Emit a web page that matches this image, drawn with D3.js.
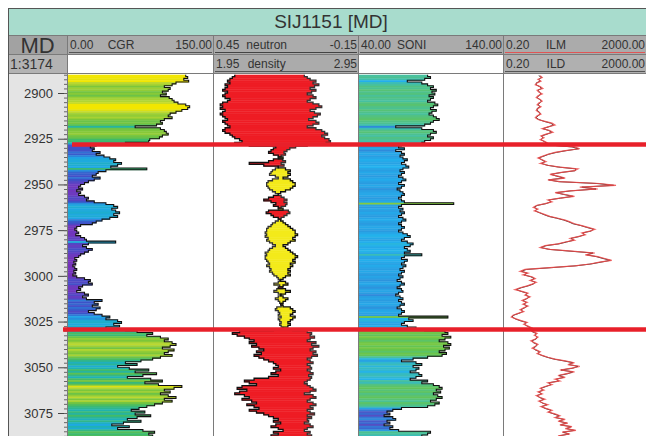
<!DOCTYPE html>
<html><head><meta charset="utf-8">
<script src="https://cdn.jsdelivr.net/npm/d3@7"></script>
<style>
body{margin:0;background:#fff;}
svg{display:block;font-family:Arial,"Liberation Sans",sans-serif;}
</style>
</head><body>
<svg id="c" width="646" height="436"></svg>
<script>
// ---------------- DATA ----------------
const wellName = "SIJ1151 [MD]";
const depthLabel = "MD";
const scaleLabel = "1:3174";
const depthStart = 2890;   // first sample depth (m)
const depthStep = 1;       // sample interval (m)
const depthTicks = [2900, 2925, 2950, 2975, 3000, 3025, 3050, 3075];
const zoneTops = [2928.2, 3029.4];

const cgrHeader = ["0.00", "CGR", "150.00"];
const neutronHeader = ["0.45", "neutron", "-0.15"];
const densityHeader = ["1.95", "density", "2.95"];
const soniHeader = ["40.00", "SONI", "140.00"];
const ilmHeader = ["0.20", "ILM", "2000.00"];
const ildHeader = ["0.20", "ILD", "2000.00"];

const cgr = [
122,124,120,125,112,108,100,106,104,98,
102,96,105,108,110,114,122,126,124,118,
112,106,104,108,100,96,98,92,70,96,
100,102,104,98,95,85,84,60,30,24,
28,26,34,30,38,44,50,48,56,52,
45,82,40,32,30,26,34,28,22,18,
14,12,16,10,14,12,18,22,20,28,
40,48,52,46,50,54,48,52,44,36,
30,26,14,10,8,10,12,9,14,18,
20,50,22,16,20,26,22,18,14,12,
8,10,7,9,6,8,10,7,9,6,
10,18,24,22,26,16,12,14,10,18,
22,16,20,36,28,32,26,34,30,22,
28,36,44,40,52,56,48,54,40,60,
72,88,82,96,104,100,108,112,106,98,
110,104,100,108,96,88,76,60,72,52,
64,84,70,92,78,62,86,98,80,94,
118,110,100,106,96,104,112,100,108,98,
90,82,74,66,80,70,86,72,62,76,
58,46,64,52,78,90,84,88];

const neutron = [
.36,.37,.38,.39,.38,.40,.39,.40,.41,.39,
.40,.41,.40,.38,.39,.41,.42,.41,.42,.40,
.41,.42,.41,.40,.39,.41,.40,.39,.38,.40,
.41,.40,.38,.37,.36,.34,.33,.36,.30,.19,
.20,.21,.22,.20,.18,.16,.20,.22,.30,.24,
.18,.15,.13,.14,.13,.14,.16,.13,.12,.11,
.11,.12,.13,.15,.17,.18,.20,.22,.24,.21,
.19,.20,.18,.16,.22,.23,.21,.20,.18,.17,
.16,.15,.14,.13,.12,.11,.11,.10,.11,.12,
.11,.13,.14,.16,.15,.14,.13,.12,.11,.10,
.11,.12,.11,.13,.12,.13,.14,.13,.14,.13,
.15,.16,.17,.15,.14,.16,.18,.15,.13,.15,
.17,.16,.14,.15,.16,.17,.16,.13,.12,.11,
.12,.13,.11,.12,.13,.14,.13,.14,.16,.20,
.34,.37,.35,.32,.30,.28,.30,.27,.29,.26,
.24,.27,.25,.28,.26,.24,.22,.20,.19,.18,
.20,.17,.19,.21,.18,.22,.28,.32,.30,.27,
.33,.35,.31,.34,.36,.32,.30,.33,.29,.27,
.31,.28,.26,.30,.27,.24,.22,.20,.18,.20,
.17,.19,.21,.18,.16,.20,.18,.21];

const density = [
2.58,2.60,2.62,2.66,2.64,2.68,2.65,2.62,2.66,2.63,
2.60,2.64,2.66,2.62,2.60,2.64,2.68,2.70,2.66,2.62,
2.65,2.69,2.67,2.64,2.61,2.66,2.68,2.64,2.60,2.66,
2.70,2.72,2.74,2.70,2.72,2.75,2.76,2.73,2.60,2.52,
2.48,2.46,2.44,2.45,2.42,2.40,2.43,2.45,2.42,2.44,
2.40,2.38,2.36,2.35,2.34,2.38,2.40,2.36,2.33,2.32,
2.32,2.33,2.34,2.36,2.38,2.40,2.42,2.44,2.46,2.44,
2.46,2.45,2.42,2.40,2.47,2.48,2.46,2.44,2.42,2.40,
2.38,2.36,2.35,2.33,2.32,2.32,2.31,2.32,2.31,2.33,
2.32,2.34,2.36,2.38,2.36,2.34,2.33,2.31,2.32,2.31,
2.31,2.32,2.33,2.34,2.32,2.34,2.35,2.34,2.36,2.37,
2.39,2.40,2.41,2.40,2.37,2.41,2.43,2.39,2.37,2.40,
2.42,2.40,2.38,2.40,2.41,2.43,2.42,2.39,2.38,2.40,
2.41,2.40,2.42,2.40,2.41,2.42,2.41,2.42,2.43,2.50,
2.60,2.63,2.62,2.65,2.62,2.60,2.66,2.63,2.68,2.64,
2.62,2.66,2.64,2.67,2.63,2.60,2.62,2.64,2.60,2.62,
2.63,2.60,2.62,2.64,2.61,2.63,2.62,2.60,2.58,2.60,
2.62,2.64,2.66,2.62,2.58,2.64,2.66,2.62,2.60,2.64,
2.66,2.62,2.64,2.60,2.62,2.65,2.60,2.63,2.60,2.61,
2.58,2.62,2.64,2.60,2.58,2.62,2.60,2.63];

const soni = [
88,90,86,74,84,88,92,90,94,91,
93,89,92,90,88,93,95,92,90,94,
91,89,92,94,96,92,90,86,66,84,
92,94,90,88,92,90,86,84,70,68,
72,66,70,72,69,71,74,72,70,73,
75,71,69,72,70,68,71,73,70,68,
72,70,67,69,71,72,70,68,70,72,
106,70,68,71,69,72,70,68,71,73,
70,68,70,72,70,68,71,74,76,72,
70,74,78,76,72,74,76,72,84,72,
70,74,72,70,73,71,69,72,70,68,
71,69,67,70,72,69,67,70,71,68,
66,69,71,68,70,72,69,67,70,72,
70,68,102,75,78,72,70,74,80,86,
100,102,98,104,100,96,102,104,99,103,
100,96,101,98,88,78,70,80,84,78,
82,80,76,82,84,80,76,88,84,92,
96,98,94,97,92,95,98,94,90,96,
93,88,70,64,60,62,58,64,66,60,
62,58,64,62,68,90,88,84];

const ilm = [
2.2,2.5,1.9,2.3,1.8,1.6,2.2,2.6,1.8,2.0,
2.5,1.9,1.7,2.2,2.5,2.0,1.8,2.3,1.9,1.7,
2.0,2.3,1.8,1.6,1.9,3.0,4.7,5.7,3.6,2.5,
4.1,5.0,3.2,2.3,2.8,2.2,3.0,3.6,4.7,20,
28,11,5.7,3.6,2.6,1.9,2.5,3.2,2.2,3.6,
7.8,25,20,7.8,4.1,6.9,11,3.6,7.8,100,
290,28,90,15,5.7,11,20,7.8,3.6,4.7,
3.0,1.7,1.4,1.9,1.5,2.2,3.0,4.1,6.9,11,
15,20,32,48,74,54,32,40,25,15,
20,11,6.9,3.0,2.2,4.1,17,74,40,90,
140,220,100,54,20,4.1,0.82,0.6,1.0,0.72,
1.3,1.6,1.14,1.7,1.3,0.95,0.6,0.43,0.68,1.0,
0.82,1.14,0.88,0.68,0.95,0.72,1.0,0.76,0.6,0.76,
0.53,0.38,0.34,0.46,0.64,0.95,0.76,1.0,1.3,1.14,
1.4,1.8,1.5,1.9,1.6,1.2,1.5,1.9,1.6,1.3,
1.7,2.2,1.8,2.5,3.6,5.7,11,20,13,28,
17,7.8,20,12,6.9,11,5.7,7.8,3.6,4.7,
3.0,2.2,2.8,1.9,2.5,1.7,2.2,3.0,2.0,2.6,
3.6,2.3,3.2,4.7,3.6,5.7,7.8,5.7,11,6.9,
13,7.8,17,11,22,9,15,6.9];

const ild = [
2.0,2.4,2.0,2.2,1.7,1.7,2.1,2.4,1.9,2.1,
2.3,2.0,1.8,2.1,2.4,2.1,1.9,2.2,1.8,1.8,
2.1,2.2,1.9,1.7,2.0,2.8,4.3,5.2,3.8,2.6,
3.8,4.6,3.4,2.4,2.6,2.3,2.8,3.4,4.4,17,
26,12,6.2,3.8,2.8,2.0,2.4,3.0,2.4,3.4,
7.0,22,21,8.4,4.4,6.4,10,3.8,7.2,85,
250,32,80,16,6.2,10,18,8.2,3.8,4.4,
3.2,1.8,1.5,1.8,1.6,2.1,2.8,3.8,6.4,10,
14,18,30,44,68,58,34,38,27,16,
19,12,7.4,3.2,2.3,3.8,15,66,44,82,
125,200,110,58,22,4.6,0.9,0.65,0.95,0.78,
1.2,1.5,1.2,1.6,1.4,1.0,0.65,0.47,0.64,0.95,
0.86,1.1,0.92,0.72,0.9,0.76,0.95,0.8,0.64,0.72,
0.56,0.4,0.36,0.44,0.6,0.9,0.8,0.95,1.2,1.2,
1.3,1.7,1.6,1.8,1.7,1.3,1.4,1.8,1.7,1.4,
1.6,2.1,1.9,2.4,3.4,5.2,10,18,14,25,
18,8.4,18,13,7.4,10,6.2,7.2,3.8,4.4,
3.2,2.3,2.6,2.0,2.4,1.8,2.1,2.8,2.1,2.5,
3.4,2.4,3.0,4.4,3.8,5.2,7.4,6.0,10,7.4,
12,8.2,16,12,20,9.6,14,7.4];

// ---------------- LAYOUT ----------------
const W = 646, H = 436;
const X0 = 8, TITLE_T = 8, ROW1_T = 35, ROW2_T = 54, PLOT_T = 73, PLOT_B = 436;
const COLS = [8, 67, 213, 358, 503, 646];

const svg = d3.select("#c");
const depths = cgr.map((_, i) => depthStart + i * depthStep);

const y = d3.scaleLinear().domain([2900, 3075]).range([93, 413]);
const xCgr = d3.scaleLinear().domain([0, 150]).range([COLS[1], COLS[2]]);
const xNeu = d3.scaleLinear().domain([0.45, -0.15]).range([COLS[2], COLS[3]]);
const xDen = d3.scaleLinear().domain([1.95, 2.95]).range([COLS[2], COLS[3]]);
const xSon = d3.scaleLinear().domain([40, 140]).range([COLS[3], COLS[4]]);
const xRes = d3.scaleLog().domain([0.2, 2000]).range([COLS[4], COLS[5]]);

const cgrColor = d3.scaleLinear()
  .domain([5, 15, 28, 45, 65, 85, 100, 112, 122])
  .range(["#7a2fb8","#6a3cc0","#3c52c8","#1ea8e6","#1fb2b0","#3fba6a","#7cc63a","#bcd830","#f2e600"])
  .clamp(true);
const soniColor = d3.scaleLinear()
  .domain([55, 62, 68, 75, 88, 100, 108])
  .range(["#6a3cb8","#3a68d0","#2a9be0","#22b2ee","#46c0a0","#66c44c","#8ccc3c"])
  .clamp(true);

// ---- background panels ----
svg.append("rect").attr("x", X0).attr("y", TITLE_T).attr("width", W - X0).attr("height", ROW1_T - TITLE_T)
  .attr("fill", "#a8dccd");
svg.append("rect").attr("x", X0).attr("y", ROW1_T).attr("width", W - X0).attr("height", ROW2_T - ROW1_T)
  .attr("fill", "#ababab");
const row2Fill = ["#b3b3b3", "#ffffff", "#ababab", "#ffffff", "#b0b0b0"];
row2Fill.forEach((f, i) => {
  svg.append("rect").attr("x", COLS[i]).attr("y", ROW2_T).attr("width", COLS[i + 1] - COLS[i])
    .attr("height", PLOT_T - ROW2_T).attr("fill", f);
});
svg.append("rect").attr("x", COLS[0]).attr("y", ROW1_T).attr("width", COLS[1] - COLS[0])
  .attr("height", ROW2_T - ROW1_T).attr("fill", "#a2a2a2");
svg.append("rect").attr("x", COLS[0]).attr("y", PLOT_T).attr("width", COLS[1] - COLS[0])
  .attr("height", PLOT_B - PLOT_T).attr("fill", "#e4e4e4");

const defs = svg.append("defs");
for (let i = 1; i < 5; i++) {
  defs.append("clipPath").attr("id", "clip" + i).append("rect")
    .attr("x", COLS[i]).attr("y", PLOT_T).attr("width", COLS[i + 1] - COLS[i]).attr("height", PLOT_B - PLOT_T);
}

const yTop = d => y(d);
const yBot = d => y(d + depthStep) + 0.4;
function stepPoints(vals, xs) {
  const pts = [];
  vals.forEach((v, i) => { pts.push([xs(v), y(depths[i])]); pts.push([xs(v), y(depths[i] + depthStep)]); });
  return pts;
}
const line = d3.line();

// ---- CGR track ----
const gC = svg.append("g").attr("clip-path", "url(#clip1)");
gC.selectAll("rect").data(cgr).join("rect")
  .attr("x", xCgr(0)).attr("y", (v, i) => yTop(depths[i]))
  .attr("width", v => xCgr(v) - xCgr(0)).attr("height", (v, i) => yBot(depths[i]) - yTop(depths[i]))
  .attr("fill", v => cgrColor(v));
gC.append("path").attr("d", line(stepPoints(cgr, xCgr))).attr("fill", "none")
  .attr("stroke", "#111").attr("stroke-width", 1.1);

// ---- Neutron / density track ----
const gN = svg.append("g").attr("clip-path", "url(#clip2)");
gN.selectAll("rect").data(depths).join("rect")
  .attr("x", (d, i) => Math.min(xNeu(neutron[i]), xDen(density[i])))
  .attr("y", d => yTop(d))
  .attr("width", (d, i) => Math.abs(xNeu(neutron[i]) - xDen(density[i])))
  .attr("height", d => yBot(d) - yTop(d))
  .attr("fill", (d, i) => xNeu(neutron[i]) < xDen(density[i]) ? "#ee1c24" : "#f3ea1a");
gN.append("path").attr("d", line(stepPoints(density, xDen))).attr("fill", "none")
  .attr("stroke", "#333").attr("stroke-width", 1.3);
gN.append("path").attr("d", line(stepPoints(neutron, xNeu))).attr("fill", "none")
  .attr("stroke", "#111").attr("stroke-width", 1.3);

// ---- SONI track ----
const gS = svg.append("g").attr("clip-path", "url(#clip3)");
gS.selectAll("rect").data(soni).join("rect")
  .attr("x", xSon(40)).attr("y", (v, i) => yTop(depths[i]))
  .attr("width", v => xSon(v) - xSon(40)).attr("height", (v, i) => yBot(depths[i]) - yTop(depths[i]))
  .attr("fill", v => soniColor(v));
gS.append("path").attr("d", line(stepPoints(soni, xSon))).attr("fill", "none")
  .attr("stroke", "#111").attr("stroke-width", 1.1);

// ---- Resistivity track ----
const gR = svg.append("g").attr("clip-path", "url(#clip4)");
const resLine = vals => d3.line().x(v => xRes(v)).y((v, i) => y(depths[i] + depthStep / 2))(vals);
gR.append("path").attr("d", resLine(ild)).attr("fill", "none")
  .attr("stroke", "#3a1a1a").attr("stroke-width", 0.9);
gR.append("path").attr("d", resLine(ilm)).attr("fill", "none")
  .attr("stroke", "#ee4a4a").attr("stroke-width", 1.2).attr("opacity", 0.85);

// ---- grid / borders ----
const gl = svg.append("g").attr("stroke", "#7a7a7a").attr("stroke-width", 1).attr("shape-rendering", "crispEdges");
[ROW1_T, ROW2_T, PLOT_T].forEach(yy => gl.append("line").attr("x1", X0).attr("x2", W).attr("y1", yy + 0.5).attr("y2", yy + 0.5));
COLS.slice(1, 5).forEach(xx => gl.append("line").attr("x1", xx + 0.5).attr("x2", xx + 0.5).attr("y1", ROW1_T).attr("y2", PLOT_B));
svg.append("rect").attr("x", X0 + 0.5).attr("y", TITLE_T + 0.5).attr("width", W - X0).attr("height", PLOT_B - TITLE_T)
  .attr("fill", "none").attr("stroke", "#555").attr("stroke-width", 1);

// ---- header texts ----
svg.append("text").attr("x", 331).attr("y", 28).attr("text-anchor", "middle")
  .attr("font-size", 19).attr("fill", "#333").text(wellName);
svg.append("text").attr("x", (COLS[0] + COLS[1]) / 2).attr("y", 53).attr("text-anchor", "middle")
  .attr("font-size", 22).attr("fill", "#333").text(depthLabel);
svg.append("text").attr("x", X0 + 2).attr("y", 69).attr("font-size", 14).attr("fill", "#333").text(scaleLabel);

function header(col, row, labels, lineColor) {
  const x1 = COLS[col], x2 = COLS[col + 1];
  const base = row === 1 ? 49 : 68;
  const g = svg.append("g").attr("font-size", 12).attr("fill", "#333");
  g.append("text").attr("x", x1 + 3).attr("y", base).text(labels[0]);
  g.append("text").attr("x", x1 + (x2 - x1) * 0.37).attr("y", base).attr("text-anchor", "middle").text(labels[1]);
  g.append("text").attr("x", x2 - 1).attr("y", base).attr("text-anchor", "end").text(labels[2]);
  svg.append("line").attr("x1", x1 + 2).attr("x2", x2 - 1).attr("y1", base + 3.5).attr("y2", base + 3.5)
    .attr("stroke", lineColor).attr("stroke-width", 1.2);
}
header(1, 1, cgrHeader, "#555");
header(2, 1, neutronHeader, "#444");
header(2, 2, densityHeader, "#555");
header(3, 1, soniHeader, "#555");
header(4, 1, ilmHeader, "#e05555");
header(4, 2, ildHeader, "#555");

// ---- depth axis ----
const axisG = svg.append("g").attr("transform", `translate(${COLS[1]},0)`)
  .call(d3.axisLeft(y).tickValues(depthTicks).tickSize(9).tickPadding(5).tickFormat(d3.format("d")));
axisG.select(".domain").remove();
axisG.selectAll("text").attr("font-size", 13).attr("fill", "#333").attr("font-family", "Arial, Liberation Sans, sans-serif");
axisG.selectAll("line").attr("stroke", "#444");
const minor = svg.append("g").attr("transform", `translate(${COLS[1]},0)`)
  .call(d3.axisLeft(y).tickValues(d3.range(2890, 3088, 2.5)).tickSize(3).tickFormat(""));
minor.select(".domain").remove();
minor.selectAll("line").attr("stroke", "#666");

// ---- zone markers ----
const zoneStart = [72, 63];
svg.selectAll(".zone").data(zoneTops).join("line").attr("class", "zone")
  .attr("x1", (d, i) => zoneStart[i]).attr("x2", W)
  .attr("y1", d => y(d)).attr("y2", d => y(d))
  .attr("stroke", "#e8202a").attr("stroke-width", 4.5);
</script>
</body></html>
